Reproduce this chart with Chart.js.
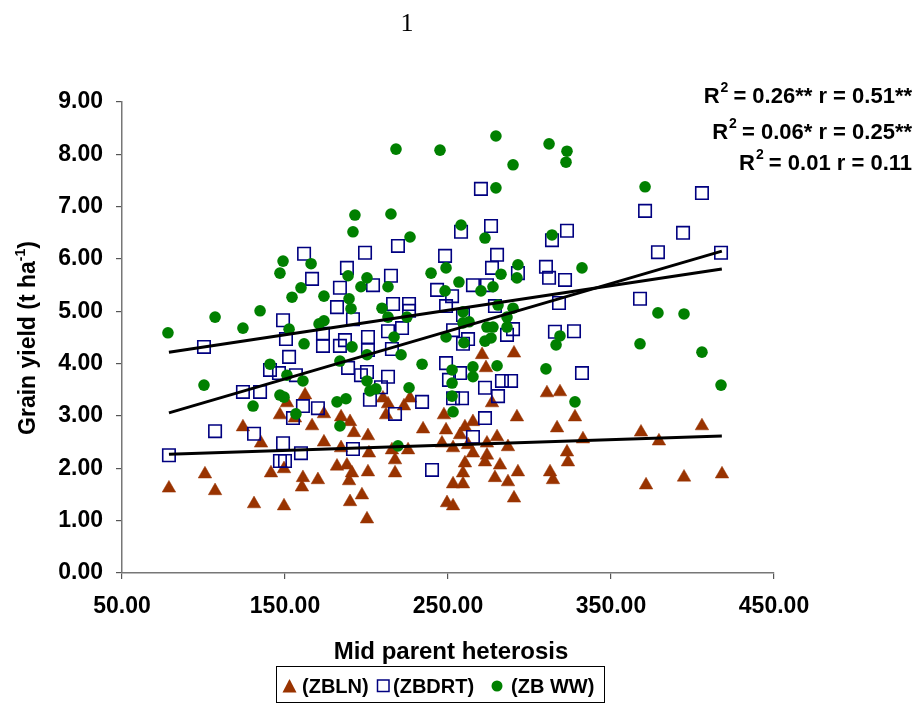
<!DOCTYPE html>
<html>
<head>
<meta charset="utf-8">
<script src="https://cdn.jsdelivr.net/npm/chart.js@4.4.1/dist/chart.umd.min.js"></script>
<style>
html,body{margin:0;padding:0;background:#fff;}
#wrap{position:relative;width:920px;height:704px;}
</style>
</head>
<body>
<div id="wrap"><canvas id="c" width="920" height="704"></canvas></div>
<script>
// ---- data ----
const xTickValues = [50, 150, 250, 350, 450];
const yTickValues = [0, 1, 2, 3, 4, 5, 6, 7, 8, 9];
const seriesNames = ['(ZBLN)', '(ZBDRT)', '(ZB WW)'];

const zblnX = [78.8,100.9,107.1,131.0,149.4,124.2,135.3,141.4,146.9,162.3,151.2,156.1,166.6,173.9,173.9,184.4,184.4,181.9,188.0,161.0,160.4,170.2,189.3,189.9,149.4,189.9,192.3,191.1,200.9,197.2,200.3,200.9,201.5,270.9,273.3,277.0,210.1,213.2,226.7,223.0,212.0,247.5,290.5,234.7,248.8,260.4,257.4,265.3,280.1,292.3,215.6,225.5,217.5,246.3,253.1,262.3,273.9,286.8,265.3,273.9,260.4,272.7,281.9,217.5,292.9,259.2,278.8,286.8,253.1,259.2,249.4,253.1,290.5,310.7,318.7,327.9,316.9,323.0,323.6,312.6,314.4,332.8,368.4,379.4,405.8,371.5,394.8,418.1];
const zblnY = [1.62,1.89,1.57,1.32,1.28,2.79,2.48,1.91,3.02,3.40,3.25,2.96,2.81,3.04,2.50,2.98,2.39,2.04,2.06,1.82,1.64,1.78,1.76,1.36,1.99,2.89,2.68,1.91,1.93,1.49,1.03,2.62,2.29,4.17,3.92,3.25,3.34,3.23,3.34,3.19,3.02,3.02,4.20,2.75,2.73,2.79,2.64,2.89,2.60,2.98,2.35,2.35,2.16,2.48,2.39,2.45,2.48,2.41,2.29,2.25,2.10,2.12,2.06,1.91,1.93,1.91,1.82,1.74,1.70,1.70,1.34,1.28,1.43,3.44,3.46,2.98,2.77,2.31,2.12,1.93,1.78,2.56,2.69,2.52,2.81,1.68,1.83,1.89];

const zbdrtX = [161.7,166.6,188.0,183.7,181.9,148.8,150.6,199.1,191.7,173.3,173.3,183.7,186.8,200.9,200.9,152.5,140.8,146.3,156.7,188.7,200.3,196.6,100.3,124.2,134.7,161.0,170.2,154.9,107.1,131.0,148.8,78.8,159.8,146.9,150.0,191.7,202.1,204.0,216.3,226.1,226.1,221.8,213.2,215.6,243.3,252.5,248.8,265.3,273.9,259.2,253.1,262.3,259.2,286.2,248.8,257.4,250.6,253.1,258.6,272.7,280.7,283.1,288.7,234.1,217.5,272.7,208.9,213.2,270.2,276.4,258.0,323.0,313.8,219.3,248.2,280.1,215.0,277.0,292.9,310.1,312.0,321.8,278.8,318.1,289.9,315.6,327.3,265.3,240.2,332.2,405.8,370.9,394.2,378.8,417.5,367.8];
const zbdrtY = [6.10,5.62,5.83,5.45,5.08,4.83,4.47,6.12,4.85,4.57,4.34,4.34,4.45,4.51,4.26,4.13,3.88,3.82,3.78,3.92,3.84,3.78,4.32,3.46,3.46,3.19,3.15,2.96,2.71,2.66,2.48,2.25,2.29,2.14,2.14,2.37,3.31,5.50,5.14,5.14,5.01,4.68,4.62,4.28,5.41,5.29,5.10,5.50,5.50,4.93,4.64,4.47,4.38,4.55,4.01,3.82,3.69,3.34,3.34,3.54,3.38,3.67,3.67,3.27,3.04,2.96,3.55,3.75,7.34,6.63,6.52,6.54,6.36,6.25,6.06,6.08,5.68,5.83,5.73,5.85,5.64,5.60,5.10,5.16,4.66,4.61,4.62,2.60,1.97,3.82,7.26,6.92,6.50,6.13,6.12,5.24];

const zbwwX = [78.2,107.1,124.2,134.7,148.8,146.9,166.0,159.8,154.3,173.9,152.5,170.9,173.9,188.7,189.3,190.5,191.7,192.9,100.3,140.8,161.7,151.2,161.0,146.9,149.4,130.4,156.7,181.9,187.4,183.7,183.7,191.1,196.6,200.3,200.3,200.3,202.1,205.8,213.2,248.2,256.7,270.2,277.6,209.5,213.2,224.8,216.9,221.2,234.1,259.2,262.9,259.2,248.8,259.8,273.9,277.6,286.2,272.7,276.4,280.7,289.9,286.2,252.5,265.3,265.3,280.1,252.5,252.5,253.1,226.1,218.1,245.1,279.4,312.0,323.0,322.4,289.9,279.4,215.0,226.7,258.0,272.7,313.8,332.2,239.6,248.8,282.5,292.9,292.3,219.3,310.1,318.7,316.3,327.9,370.9,367.8,405.8,417.5,378.8,394.8];
const zbwwY = [4.59,4.89,4.68,5.01,5.96,5.73,5.91,5.45,5.27,5.29,4.66,4.76,4.82,5.68,5.24,5.05,6.52,6.84,3.59,3.99,4.38,3.78,3.67,3.40,3.36,3.19,3.04,3.27,3.33,4.05,2.81,4.32,5.47,5.64,4.17,3.67,3.48,3.52,5.47,5.39,5.56,5.39,5.47,5.06,4.89,4.89,4.51,4.17,3.99,4.99,4.80,4.78,4.51,4.40,4.70,4.70,4.70,4.43,4.49,5.12,5.06,4.89,3.88,3.94,3.75,3.96,3.63,3.38,3.08,3.54,8.10,8.08,8.35,8.20,8.06,7.85,7.80,7.36,6.86,6.42,6.65,6.40,6.46,5.83,5.73,5.83,5.71,5.89,5.64,2.43,3.90,4.53,4.36,3.27,7.38,4.38,4.22,3.59,4.97,4.95];

// trend line end points
const trendX = [78.8, 418];
const trendDRT = [3.06, 6.15];
const trendWW = [4.22, 5.81];
const trendBLN = [2.27, 2.62];

// annotation texts
const statLines = [
  ['0.26**', '0.51**'],
  ['0.06*', '0.25**'],
  ['0.01', '0.11']
];

const FONT = "'Liberation Sans', Arial, Helvetica, sans-serif";
const C_BLN = '#993300', C_DRT = '#000080', C_WW = '#008000';

function pts(xs, ys) { return xs.map((x, i) => ({x: x, y: ys[i]})); }

const extras = {
  id: 'extras',
  afterDraw(chart) {
    const ctx = chart.ctx;
    ctx.save();
    ctx.fillStyle = '#000';
    // page number
    ctx.font = "26px 'Liberation Serif', 'Times New Roman', serif";
    ctx.textAlign = 'center';
    ctx.textBaseline = 'alphabetic';
    ctx.fillText('1', 407, 31);

    // x title
    ctx.font = 'bold 24px ' + FONT;
    ctx.textAlign = 'center';
    ctx.textBaseline = 'middle';
    ctx.fillText('Mid parent heterosis', 451, 652);

    // y title with superscript
    ctx.save();
    ctx.translate(27, 338);
    ctx.rotate(-Math.PI / 2);
    const mainF = 'bold 23px ' + FONT, supF = 'bold 14px ' + FONT;
    const p1 = 'Grain yield (t ha', p2 = '-1', p3 = ')';
    ctx.font = mainF; const w1 = ctx.measureText(p1).width, w3 = ctx.measureText(p3).width;
    ctx.font = supF; const w2 = ctx.measureText(p2).width;
    let x0 = -(w1 + w2 + w3) / 2;
    ctx.textAlign = 'left'; ctx.textBaseline = 'alphabetic';
    ctx.font = mainF; ctx.fillText(p1, x0, 8);
    ctx.font = supF; ctx.fillText(p2, x0 + w1, -2);
    ctx.font = mainF; ctx.fillText(p3, x0 + w1 + w2, 8);
    ctx.restore();

    // R2 / r annotations, right aligned
    const annF = 'bold 22px ' + FONT, annS = 'bold 14px ' + FONT;
    const baselines = [97, 133, 164];
    statLines.forEach((s, i) => {
      const rest = ' = ' + s[0] + ' r = ' + s[1];
      ctx.font = annF; const wr = ctx.measureText('R').width, wrest = ctx.measureText(rest).width;
      ctx.font = annS; const ws = ctx.measureText('2').width;
      const right = 912;
      let xs = right - wrest - ws - wr;
      const b = baselines[i];
      ctx.textAlign = 'left';
      ctx.font = annF; ctx.fillText('R', xs, b);
      ctx.font = annS; ctx.fillText('2', xs + wr + 1, b - 9);
      ctx.font = annF; ctx.fillText(rest, xs + wr + ws, b);
    });

    // legend
    ctx.strokeStyle = '#000'; ctx.lineWidth = 1;
    ctx.strokeRect(276.5, 666.5, 328, 36);
    const cy = 686;
    ctx.font = 'bold 20px ' + FONT;
    ctx.textBaseline = 'middle'; ctx.textAlign = 'left';
    // triangle
    ctx.fillStyle = C_BLN;
    ctx.beginPath();
    ctx.moveTo(289.5, 679); ctx.lineTo(296.5, 692.5); ctx.lineTo(282.5, 692.5); ctx.closePath(); ctx.fill();
    ctx.fillStyle = '#000'; ctx.fillText(seriesNames[0], 302, cy + 1);
    // square
    ctx.strokeStyle = C_DRT; ctx.lineWidth = 1.5;
    ctx.strokeRect(377.5, 680, 11.5, 11.5);
    ctx.fillStyle = '#000'; ctx.fillText(seriesNames[1], 393, cy + 1);
    // circle
    ctx.fillStyle = C_WW;
    ctx.beginPath(); ctx.arc(497, cy, 5.5, 0, Math.PI * 2); ctx.fill();
    ctx.fillStyle = '#000'; ctx.fillText(seriesNames[2], 511, cy + 1);
    ctx.restore();
  }
};

new Chart(document.getElementById('c'), {
  type: 'scatter',
  data: {
    datasets: [
      {label: 'trend DRT', data: pts(trendX, trendDRT), showLine: true, borderColor: '#000', borderWidth: 3, pointRadius: 0, order: 0},
      {label: 'trend WW', data: pts(trendX, trendWW), showLine: true, borderColor: '#000', borderWidth: 3, pointRadius: 0, order: 0},
      {label: 'trend BLN', data: pts(trendX, trendBLN), showLine: true, borderColor: '#000', borderWidth: 3, pointRadius: 0, order: 0},
      {label: seriesNames[2], data: pts(zbwwX, zbwwY), pointStyle: 'circle', pointRadius: 5.8, backgroundColor: C_WW, borderColor: C_WW, borderWidth: 0, order: 1},
      {label: seriesNames[1], data: pts(zbdrtX, zbdrtY), pointStyle: 'rect', pointRadius: 8.8, backgroundColor: 'rgba(0,0,0,0)', borderColor: C_DRT, borderWidth: 1.6, order: 2},
      {label: seriesNames[0], data: pts(zblnX, zblnY), pointStyle: 'triangle', pointRadius: 7.8, backgroundColor: C_BLN, borderColor: C_BLN, borderWidth: 0.5, order: 3}
    ]
  },
  options: {
    responsive: false,
    animation: false,
    devicePixelRatio: 1,
    layout: {padding: {top: 102, right: 146, left: 0, bottom: 0}},
    plugins: {legend: {display: false}, tooltip: {enabled: false}},
    elements: {line: {tension: 0}},
    scales: {
      x: {
        type: 'linear', min: 50, max: 450,
        afterBuildTicks: s => { s.ticks = xTickValues.map(v => ({value: v})); },
        afterFit: s => { s.height = 131; },
        ticks: {color: '#000', font: {family: FONT, size: 23, weight: 'bold'}, padding: 14, maxRotation: 0, callback: v => Number(v).toFixed(2)},
        grid: {display: true, drawOnChartArea: false, drawTicks: true, tickLength: 6, color: '#555', lineWidth: 1.2},
        border: {display: true, color: '#777', width: 1.5}
      },
      y: {
        type: 'linear', min: 0, max: 9,
        afterBuildTicks: s => { s.ticks = yTickValues.map(v => ({value: v})); },
        afterFit: s => { s.width = 122; },
        ticks: {color: '#000', font: {family: FONT, size: 23, weight: 'bold'}, padding: 13, callback: v => Number(v).toFixed(2)},
        grid: {display: true, drawOnChartArea: false, drawTicks: true, tickLength: 6, color: '#555', lineWidth: 1.2},
        border: {display: true, color: '#777', width: 1.5}
      }
    }
  },
  plugins: [extras]
});
</script>
</body>
</html>
